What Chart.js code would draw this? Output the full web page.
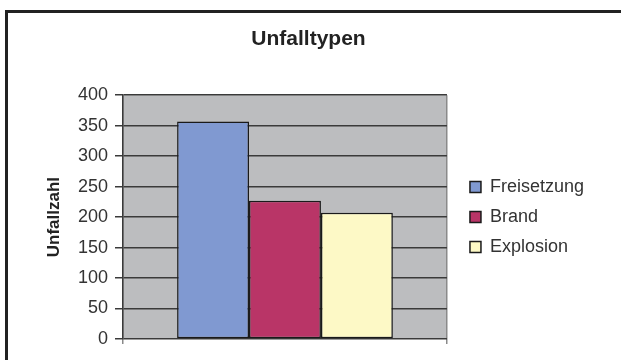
<!DOCTYPE html>
<html>
<head>
<meta charset="utf-8">
<script src="https://cdn.jsdelivr.net/npm/chart.js@4"></script>
<style>
  html, body { margin: 0; padding: 0; background: #fff; }
  #frame {
    position: absolute; left: 5px; top: 10px; width: 700px; height: 400px;
    border-top: 3px solid #222; border-left: 3px solid #222;
  }
  #wrap { position: absolute; left: 0; top: 0; width: 621px; height: 360px; }
</style>
</head>
<body>
<div id="frame"></div>
<div id="wrap"><canvas id="myChart" width="621" height="360"></canvas></div>
<script>
// chart data
var categories = [''];
var seriesNames = ['Freisetzung', 'Brand', 'Explosion'];
var seriesValues = [[357], [227], [207]];
var seriesColors = ['#8099d1', '#b93567', '#fdf9c6'];
var yTicks = [0, 50, 100, 150, 200, 250, 300, 350, 400];

var FONT = 'Liberation Sans, Arial, sans-serif';

// gray plot background
var plotBg = {
    id: 'plotBg',
    beforeDraw: function (chart) {
        var a = chart.chartArea, ctx = chart.ctx;
        ctx.save();
        ctx.fillStyle = '#bcbdbf';
        ctx.fillRect(a.left, a.top, a.right - a.left, a.bottom - a.top);
        ctx.restore();
    },
    // push the legend a bit away from the plot
    afterLayout: function (chart) {
        var lg = chart.legend;
        lg.left += 11;
        lg.right += 11;
        lg.top += 35;
        lg.bottom += 35;
    }
};

var datasets = seriesNames.map(function (name, i) {
    return {
        label: name,
        data: seriesValues[i],
        backgroundColor: seriesColors[i],
        borderColor: '#1a1a1a',
        borderWidth: 1.5,
        borderSkipped: false
    };
});

new Chart(document.getElementById('myChart'), {
    type: 'bar',
    data: { labels: categories, datasets: datasets },
    plugins: [plotBg],
    options: {
        responsive: false,
        animation: false,
        devicePixelRatio: 1,
        layout: { padding: { left: 34, right: 38, top: 20, bottom: 16 } },
        datasets: { bar: { categoryPercentage: 0.666, barPercentage: 1 } },
        plugins: {
            title: {
                display: true,
                text: 'Unfalltypen',
                color: '#222',
                font: { family: FONT, size: 21, weight: 'bold' },
                padding: { top: 7, bottom: 43 }
            },
            legend: {
                position: 'right',
                labels: {
                    boxWidth: 11,
                    boxHeight: 11,
                    padding: 12,
                    color: '#333',
                    font: { family: FONT, size: 18 }
                }
            },
            tooltip: { enabled: false }
        },
        scales: {
            x: {
                grid: { display: true, color: '#8a8a8a', lineWidth: 1.5, tickLength: 5 },
                border: { display: false },
                ticks: { display: false }
            },
            y: {
                min: 0,
                max: 400,
                afterBuildTicks: function (s) { s.ticks = yTicks.map(function (v) { return { value: v }; }); },
                afterFit: function (s) { s.width = 89; },
                grid: { color: '#3a3a3a', lineWidth: 1.5, tickLength: 8 },
                border: { color: '#3a3a3a', width: 1.5 },
                ticks: { color: '#333', padding: 7, font: { family: FONT, size: 18 } },
                title: {
                    display: true,
                    text: 'Unfallzahl',
                    color: '#222',
                    font: { family: FONT, size: 17, weight: 'bold' },
                    padding: { top: 10, bottom: 0 }
                }
            }
        }
    }
});
</script>
</body>
</html>
